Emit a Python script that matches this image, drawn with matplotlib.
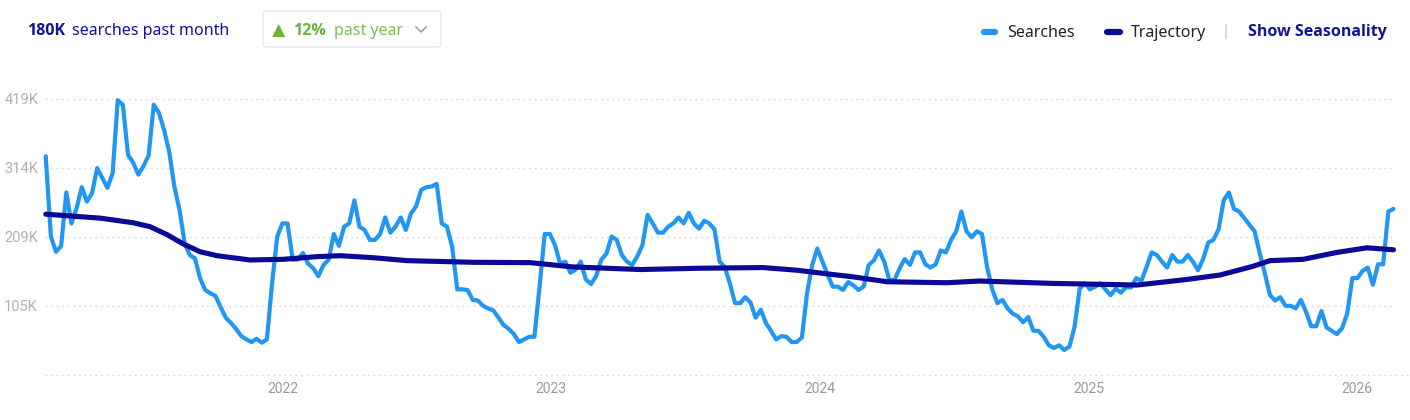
#! /usr/bin/env python
import matplotlib
matplotlib.use('Agg')
import matplotlib.pyplot as plt
from matplotlib.lines import Line2D
from matplotlib.patches import FancyBboxPatch
import pandas as pd

# weekly searches (thousands), first week 2021-02-12
start_week = '2021-02-12'
searches = [
    332, 210, 187, 196, 277, 230, 253, 285, 263, 276, 314, 299, 284, 306, 417, 410,
    334, 322, 304, 317, 333, 410, 398, 372, 339, 286, 251, 200, 182, 177, 147, 129,
    124, 120, 103, 87, 79, 70, 59, 54, 50, 55, 49, 54, 139, 210, 230, 230,
    175, 175, 185, 169, 162, 150, 167, 175, 214, 196, 225, 230, 265, 225, 220, 205,
    205, 214, 239, 216, 225, 239, 220, 245, 256, 281, 285, 286, 290, 230, 225, 195,
    130, 130, 129, 114, 113, 105, 101, 98, 87, 76, 70, 62, 50, 54, 58, 58,
    134, 214, 214, 197, 169, 172, 155, 160, 172, 145, 138, 150, 175, 184, 210, 205,
    182, 172, 167, 180, 197, 243, 230, 216, 216, 225, 230, 239, 230, 246, 230, 222,
    234, 230, 221, 172, 164, 139, 109, 109, 118, 110, 87, 99, 79, 67, 54, 59,
    58, 50, 50, 57, 124, 167, 192, 172, 152, 134, 134, 129, 141, 136, 129, 134,
    167, 174, 189, 172, 144, 144, 162, 176, 167, 186, 186, 168, 163, 168, 189, 186,
    205, 218, 248, 218, 209, 218, 214, 164, 130, 109, 114, 101, 93, 89, 80, 88,
    67, 67, 58, 45, 41, 45, 38, 43, 73, 131, 139, 130, 134, 139, 130, 121,
    131, 125, 133, 133, 147, 143, 164, 186, 182, 172, 163, 182, 172, 172, 182, 172,
    159, 176, 201, 205, 221, 265, 277, 252, 248, 238, 228, 218, 185, 154, 121, 113,
    118, 105, 105, 101, 114, 96, 74, 74, 97, 72, 67, 62, 71, 93, 147, 147,
    158, 163, 137, 168, 168, 248, 252,
]

traj_dates = [
    '2021-02-12', '2021-04-27', '2021-06-11', '2021-07-04', '2021-07-27', '2021-08-18',
    '2021-09-10', '2021-10-03', '2021-11-17', '2022-01-01', '2022-02-16', '2022-03-20',
    '2022-05-03', '2022-06-19', '2022-09-16', '2022-12-03', '2023-01-30', '2023-05-02',
    '2023-07-22', '2023-10-16', '2023-12-01', '2024-01-15', '2024-02-15', '2024-04-02',
    '2024-06-22', '2024-08-06', '2024-11-13', '2025-03-08', '2025-05-15', '2025-06-29',
    '2025-08-13', '2025-09-05', '2025-10-20', '2025-12-05', '2026-01-15', '2026-02-20',
]
trajectory = [
    244, 238, 231, 225, 213, 199, 187, 181, 174.5, 175.5, 179.6, 181,
    178, 173.5, 171, 170.5, 164, 160, 162, 163, 159, 153, 149, 141.5,
    140, 142.6, 139, 136.5, 145, 151.7, 165, 173.5, 175.5, 186, 193, 190,
]

y_ticks = [104.75, 209.5, 314.25, 419]
y_labels = ['105K', '209K', '314K', '419K']
x_years = ['2022', '2023', '2024', '2025', '2026']

SEARCH_C = '#2196F3'
TRAJ_C = '#0A0A96'
NAVY = '#14149A'
GREEN = '#6DB33F'

W, H = 1410, 420

def fx(x):
    return x / W

def fy(y):
    return 1 - y / H

fig = plt.figure(figsize=(14.1, 4.2), dpi=100)
fig.patch.set_facecolor('white')
ax = fig.add_axes([fx(45), fy(375), fx(1392) - fx(45), fy(85) - fy(375)])

dates = pd.date_range(start_week, periods=len(searches), freq='7D')
ax.plot(dates, searches, color=SEARCH_C, lw=3.0, solid_joinstyle='round',
        solid_capstyle='round', zorder=3, clip_on=False)
ax.plot(pd.to_datetime(traj_dates), trajectory, color=TRAJ_C, lw=3.7,
        solid_joinstyle='round', solid_capstyle='round', zorder=4, clip_on=False)

ax.set_ylim(0, 440)
ax.set_xlim(pd.Timestamp('2021-02-11'), pd.Timestamp('2026-02-18'))
ax.set_yticks(y_ticks)
ax.set_yticklabels(y_labels)
ax.set_xticks([pd.Timestamp(y + '-01-01') for y in x_years])
ax.set_xticklabels(x_years)
for t in y_ticks:
    ax.axhline(t, color='#dedede', lw=1.0, ls=(0, (1.5, 2.5)), zorder=1)
for s in ax.spines.values():
    s.set_visible(False)
ax.tick_params(axis='both', length=0, colors='#b0b0b0', labelsize=10.5)
ax.tick_params(axis='y', pad=5)
ax.tick_params(axis='x', pad=5, labelsize=10)
for lab in ax.get_yticklabels() + ax.get_xticklabels():
    lab.set_fontfamily('Roboto')
for lab in ax.get_xticklabels():
    lab.set_color('#9a9a9a')

# baseline runs to the right edge
fig.add_artist(Line2D([fx(45), fx(1410)], [fy(375), fy(375)], color='#dedede',
                      lw=1.0, ls=(0, (1.5, 2.5))))

# header
fig.text(fx(27), fy(31), '180K', fontsize=11.5, fontweight='bold', color=NAVY,
         family='Open Sans', va='center')
fig.text(fx(72), fy(31), 'searches past month', fontsize=11.5, color=NAVY,
         family='Noto Sans', va='center')

box = FancyBboxPatch((fx(263), fy(47)), fx(441) - fx(263), fy(11) - fy(47),
                     boxstyle='round,pad=0,rounding_size=0.004', transform=fig.transFigure,
                     facecolor='white', edgecolor='#e6e8ee', lw=1.0)
fig.add_artist(box)
fig.text(fx(272), fy(31), '\u25B2', fontsize=12.5, color=GREEN, family='DejaVu Sans',
         va='center')
fig.text(fx(293), fy(31), '12%', fontsize=11.5, fontweight='bold', color=GREEN,
         family='Open Sans', va='center')
fig.text(fx(334), fy(31), 'past year', fontsize=11.5, color='#7CC04A',
         family='Noto Sans', va='center')
fig.add_artist(Line2D([fx(416), fx(421), fx(426)], [fy(27), fy(32), fy(27)],
                      color='#9aa0b0', lw=1.2))

# legend
fig.add_artist(Line2D([fx(984), fx(995)], [fy(32), fy(32)], color=SEARCH_C, lw=4.5,
                      solid_capstyle='round'))
fig.text(fx(1007), fy(33), 'Searches', fontsize=11.5, color='#222222',
         family='Noto Sans', va='center')
fig.add_artist(Line2D([fx(1107), fx(1120)], [fy(32), fy(32)], color=TRAJ_C, lw=4.5,
                      solid_capstyle='round'))
fig.text(fx(1131), fy(33), 'Trajectory', fontsize=11.5, color='#222222',
         family='Noto Sans', va='center')
fig.add_artist(Line2D([fx(1226), fx(1226)], [fy(25), fy(38)], color='#cfd4dc', lw=1.2))
fig.text(fx(1248), fy(32), 'Show Seasonality', fontsize=11.5, fontweight='bold',
         color=NAVY, family='Open Sans', va='center')

plt.savefig('out.png', dpi=100, facecolor='white')
plt.close()
